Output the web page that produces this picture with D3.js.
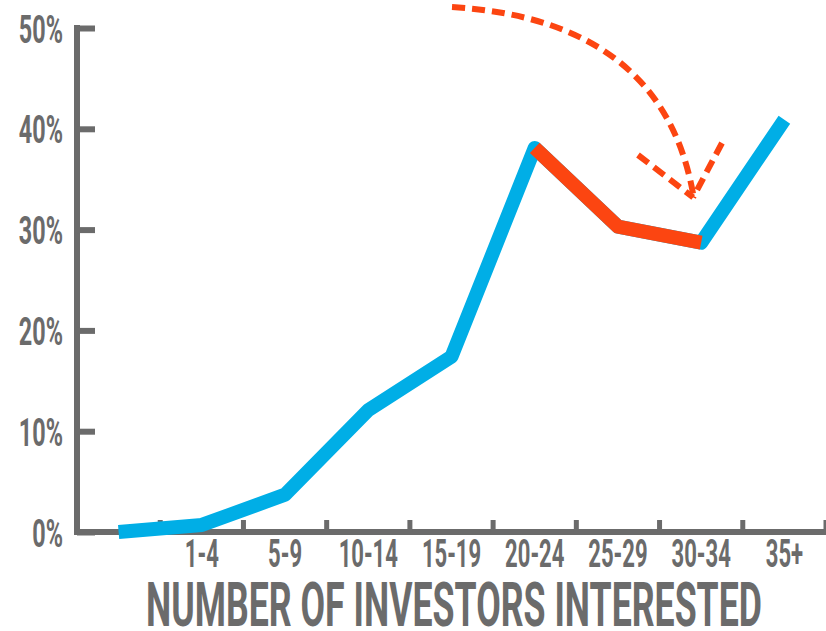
<!DOCTYPE html>
<html>
<head>
<meta charset="utf-8">
<script src="https://cdn.jsdelivr.net/npm/d3@7"></script>
<style>
  body { margin: 0; background: #fff; }
  svg { display: block; }
  text { font-family: Roboto, "DejaVu Sans", sans-serif; font-weight: bold; fill: #6b6b6b; }
</style>
</head>
<body>
<svg></svg>
<script>
var width = 826;
var height = 631;

// data
var categories = ["0", "1-4", "5-9", "10-14", "15-19", "20-24", "25-29", "30-34", "35+"];
var share = [0, 0.7, 3.7, 12.1, 17.4, 38.1, 30.3, 28.7, 40.9];
var dropStart = 5; // 20-24 .. 30-34 drawn red
var dropEnd = 7;
var yTicks = [0, 10, 20, 30, 40, 50];
var axisTitle = "NUMBER OF INVESTORS INTERESTED";

var grey = "#6b6b6b";
var blue = "#00aee6";
var red = "#fc4511";

var svg = d3.select("svg")
    .attr("width", width)
    .attr("height", height);

var x = d3.scaleBand()
    .domain(categories)
    .range([77, 826])
    .padding(0);

var y = d3.scaleLinear()
    .domain([0, 50])
    .range([532, 28]);

// y axis
var yAxis = svg.append("g")
    .attr("transform", "translate(77,0)")
    .call(d3.axisLeft(y)
      .tickValues(yTicks)
      .tickSize(-18)
      .tickPadding(14)
      .tickFormat(function(d) { return d + "%"; }));

yAxis.select(".domain")
    .attr("d", "M0," + y(50) + "V" + y(0))
    .attr("stroke", grey)
    .attr("stroke-width", 6)
    .attr("stroke-linecap", "square");
yAxis.selectAll(".tick line")
    .attr("stroke", grey)
    .attr("stroke-width", 6);
// condensed look: squeeze the text horizontally
yAxis.selectAll(".tick text")
    .attr("fill", grey)
    .style("font-size", "39px")
    .attr("dy", "0.36em")
    .attr("transform", "scale(0.6,1)")
    .attr("x", -14 / 0.6);

// x axis: labels at band centres, ticks at band edges
var xAxis = svg.append("g")
    .attr("transform", "translate(0," + y(0) + ")")
    .call(d3.axisBottom(x)
      .tickSize(0)
      .tickPadding(0)
      .tickFormat(function(d) { return d == "0" ? "" : d; }));

xAxis.select(".domain")
    .attr("d", "M74,0H826")
    .attr("stroke", grey)
    .attr("stroke-width", 6);
xAxis.selectAll(".tick text")
    .attr("fill", grey)
    .style("font-size", "38px")
    .attr("y", 35)
    .attr("dy", 0)
    .attr("transform", "scale(0.58,1)");

xAxis.selectAll(".edge")
    .data(categories)
    .enter().append("line")
    .attr("class", "edge")
    .attr("x1", function(d) { return x(d) + x.bandwidth(); })
    .attr("x2", function(d) { return x(d) + x.bandwidth(); })
    .attr("y1", 0)
    .attr("y2", -12)
    .attr("stroke", grey)
    .attr("stroke-width", 5);

svg.append("text")
    .attr("x", 146)
    .attr("y", 626)
    .attr("textLength", 616)
    .attr("lengthAdjust", "spacingAndGlyphs")
    .style("font-size", "62px")
    .attr("fill", grey)
    .text(axisTitle);

// lines
var line = d3.line()
    .x(function(d, i) { return x(categories[i]) + x.bandwidth() / 2; })
    .y(function(d) { return y(d); });

var redLine = d3.line()
    .x(function(d, i) { return x(categories[i + dropStart]) + x.bandwidth() / 2; })
    .y(function(d) { return y(d); });

svg.append("path")
    .attr("d", line(share))
    .attr("fill", "none")
    .attr("stroke", blue)
    .attr("stroke-width", 14)
    .attr("stroke-linejoin", "round");

svg.append("path")
    .attr("d", redLine(share.slice(dropStart, dropEnd + 1)))
    .attr("fill", "none")
    .attr("stroke", red)
    .attr("stroke-width", 14)
    .attr("stroke-linejoin", "round");

// dashed arrow pointing at the dip
var tipX = x("30-34") + x.bandwidth() / 2 - 8;
var tipY = y(33.5);
var arrow = svg.append("g")
    .attr("fill", "none")
    .attr("stroke", red)
    .attr("stroke-width", 6)
    .attr("stroke-dasharray", "13,7");

arrow.append("path")
    .attr("d", "M452,7Q662,20 " + tipX + "," + tipY);
arrow.append("path")
    .attr("d", "M638,155L" + tipX + "," + (tipY + 3));
arrow.append("path")
    .attr("d", "M722,143L" + tipX + "," + (tipY + 3));
</script>
</body>
</html>
